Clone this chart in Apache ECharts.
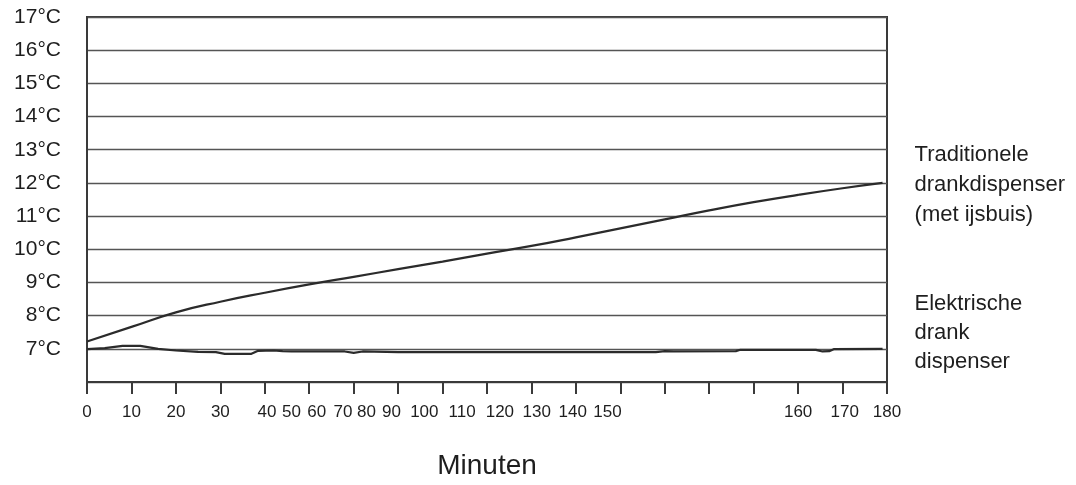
<!DOCTYPE html>
<html>
<head>
<meta charset="utf-8">
<script src="https://cdn.jsdelivr.net/npm/echarts@6/dist/echarts.min.js"></script>
<style>
  html, body { margin: 0; padding: 0; background: #fff; }
  #chart { width: 1076px; height: 485px; }
</style>
</head>
<body>
<div id="chart"></div>
<script>
// tijd (minuten) en temperatuur (°C)
const tradMin = [0, 10, 20, 30, 40, 50, 60, 70, 80, 90, 100, 110, 120, 130, 140, 150, 160, 170, 179];
const tradTemp = [7.22, 7.66, 8.1, 8.42, 8.69, 8.94, 9.17, 9.4, 9.63, 9.87, 10.1, 10.36, 10.63, 10.9, 11.17, 11.42, 11.64, 11.84, 12.0];

const elecMin = [0, 4, 8, 12, 16, 20, 25, 29, 31, 37, 38.5, 42, 44, 46, 58, 60, 62, 70, 100, 128, 130, 132, 146, 147, 164, 165.5, 167, 168, 179];
const elecTemp = [6.99, 7.02, 7.09, 7.09, 7.0, 6.95, 6.91, 6.9, 6.85, 6.85, 6.94, 6.95, 6.93, 6.92, 6.92, 6.88, 6.92, 6.9, 6.9, 6.9, 6.93, 6.92, 6.93, 6.97, 6.97, 6.92, 6.93, 6.99, 7.0];

const seriesNames = ['Traditionele\ndrankdispenser\n(met ijsbuis)', 'Elektrische\ndrank\ndispenser'];

// as-labels: de tekst en waar ze onder de as staan (in minuten)
const tickMin = [0, 10, 20, 30, 40, 50, 60, 70, 80, 90, 100, 110, 120, 130, 140, 150, 160, 170, 180];
const tickLabels = ['0', '10', '20', '30', '40', '50', '60', '70', '80', '90', '100', '110', '120', '130', '140', '150', '160', '170', '180'];
const labelAt = [0, 10, 20, 30, 40.5, 46, 51.7, 57.6, 62.9, 68.5, 75.9, 84.4, 92.9, 101.2, 109.3, 117.1, 160, 170.5, 180];

const yMin = 6, yMax = 17, yStep = 1;

const textColor = '#1e1e1e';
const lineColor = '#2b2b2b';
const font = 'Liberation Sans, Arial, sans-serif';

function pairs(xs, ys) {
	return xs.map((x, i) => [x, ys[i]]);
}

function labelFor(v) {
	let best = 0;
	for (let i = 1; i < labelAt.length; i++) {
		if (Math.abs(labelAt[i] - v) < Math.abs(labelAt[best] - v)) best = i;
	}
	return tickLabels[best];
}

const chart = echarts.init(document.getElementById('chart'));

const option = {
	animation: false,
	backgroundColor: '#fff',
	grid: {
		left: 87, right: 189, top: 17, bottom: 103,
		show: true,
		borderColor: '#3a3a3a',
		borderWidth: 2,
		outerBoundsMode: 'none'
	},
	xAxis: {
		type: 'value',
		min: 0, max: 180, interval: 10,
		name: 'Minuten',
		nameLocation: 'middle',
		nameGap: 70,
		nameTextStyle: { fontFamily: font, fontSize: 28, color: textColor },
		axisLine: { show: true, lineStyle: { color: '#3a3a3a', width: 2 } },
		axisTick: {
			show: true, inside: false, length: 12,
			customValues: tickMin,
			lineStyle: { color: '#3a3a3a', width: 2 }
		},
		axisLabel: {
			show: true,
			customValues: labelAt,
			margin: 22,
			fontFamily: font, fontSize: 17, color: textColor,
			formatter: labelFor
		},
		splitLine: { show: false }
	},
	yAxis: {
		type: 'value',
		min: yMin, max: yMax, interval: yStep,
		axisLine: { show: true, lineStyle: { color: '#3a3a3a', width: 2 } },
		axisTick: { show: false },
		axisLabel: {
			margin: 26,
			padding: [5, 0, 0, 0],
			fontFamily: font, fontSize: 21, color: textColor,
			formatter: v => (v === yMin ? '' : v + '°C')
		},
		splitLine: { show: true, lineStyle: { color: '#555', width: 1.3 } }
	},
	series: [
		{
			name: seriesNames[0],
			type: 'line',
			data: pairs(tradMin, tradTemp),
			smooth: true,
			symbol: 'none',
			lineStyle: { color: lineColor, width: 2.2 },
			endLabel: {
				show: true,
				formatter: p => p.seriesName,
				distance: 32,
				offset: [0, 2],
				fontFamily: font, fontSize: 22, lineHeight: 30,
				color: textColor, align: 'left'
			}
		},
		{
			name: seriesNames[1],
			type: 'line',
			data: pairs(elecMin, elecTemp),
			smooth: false,
			symbol: 'none',
			lineStyle: { color: lineColor, width: 2.2 },
			endLabel: {
				show: true,
				formatter: p => p.seriesName,
				distance: 32,
				offset: [0, -16],
				fontFamily: font, fontSize: 22, lineHeight: 29,
				color: textColor, align: 'left'
			}
		}
	]
};

chart.setOption(option);
</script>
</body>
</html>
